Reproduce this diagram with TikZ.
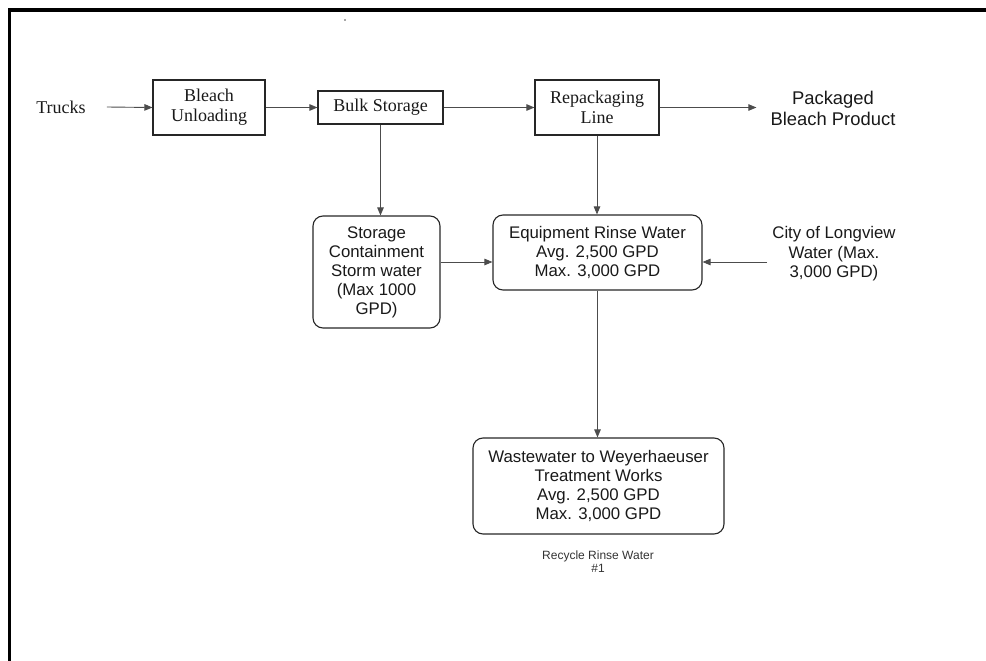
\documentclass[tikz,border=0pt]{standalone}
\usepackage{fontspec}
\setmainfont{Liberation Sans}
\newfontfamily\serifface{Liberation Serif}
\usetikzlibrary{arrows.meta}
\begin{document}
\begin{tikzpicture}[x=1pt,y=-1pt,
  sq/.style={draw=black!85,line width=1.1pt,inner sep=0pt,align=center,
    font=\serifface\fontsize{18}{20}\selectfont,text=black!90},
  rd/.style={draw=black!85,line width=1.1pt,rounded corners=10pt,inner sep=0pt,align=center,
    font=\fontsize{16.8}{19}\selectfont,text=black!90},
  lbl/.style={inner ysep=0pt,align=center,text=black!90},
  arr/.style={draw=black!70,line width=0.9pt,-{Triangle[length=8pt,width=6.5pt]}}]
\useasboundingbox (0,0) rectangle (986,661);
\draw[line width=3.5pt,line join=miter] (986,10) -- (9.5,10) -- (9.5,661);
\fill[black!70] (345,20) circle (0.9pt);

% top row
\node[lbl,inner xsep=21pt,font=\serifface\fontsize{18}{20}\selectfont] (trucks) at (61,107) {Trucks};
\node[sq,minimum width=112pt,minimum height=55pt] (bleach) at (209,107.5) {Bleach\\Unloading};
\node[sq,minimum width=125pt,minimum height=33pt] (bulk) at (380.5,107.5) {Bulk Storage};
\node[sq,minimum width=124pt,minimum height=55pt] (repack) at (597,107.5) {Repackaging\\Line};
\node[lbl,inner xsep=14pt,font=\fontsize{18.4}{21}\selectfont] (packaged) at (833,108) {Packaged\\Bleach Product};

% middle row
\node[rd,minimum width=127pt,minimum height=112pt] (storage) at (376.5,272) {Storage\\Containment\\Storm water\\(Max 1000\\GPD)};
\node[rd,minimum width=209pt,minimum height=75pt] (equip) at (597.5,252.5) {Equipment Rinse Water\\Avg. 2,500 GPD\\Max. 3,000 GPD};
\node[lbl,inner xsep=5pt,font=\fontsize{16.8}{19.5}\selectfont] (city) at (834,254) {City of Longview\\Water (Max.\\3,000 GPD)};

% bottom
\node[rd,minimum width=251pt,minimum height=96pt] (waste) at (598.5,486) {Wastewater to Weyerhaeuser\\Treatment Works\\Avg. 2,500 GPD\\Max. 3,000 GPD};
\node[lbl,font=\fontsize{12}{13}\selectfont,text=black!80] (recycle) at (598,562) {Recycle Rinse Water\\\#1};

% connectors
\draw[arr] (trucks.east) -- (bleach.west);
\draw[arr] (bleach.east) -- (bulk.west);
\draw[arr] (bulk.east) -- (repack.west);
\draw[arr] (repack.east) -- (packaged.west |- repack.east);
\draw[arr] (bulk.south) -- (bulk.south |- storage.north);
\draw[arr] (repack.south) -- (repack.south |- equip.north);
\draw[arr] ([yshift=10pt]storage.east) coordinate (s1) -- (s1 -| equip.west);
\draw[arr] ([yshift=-8pt]city.west) coordinate (c1) -- (c1 -| equip.east);
\draw[arr] (equip.south) -- (equip.south |- waste.north);
\end{tikzpicture}
\end{document}
